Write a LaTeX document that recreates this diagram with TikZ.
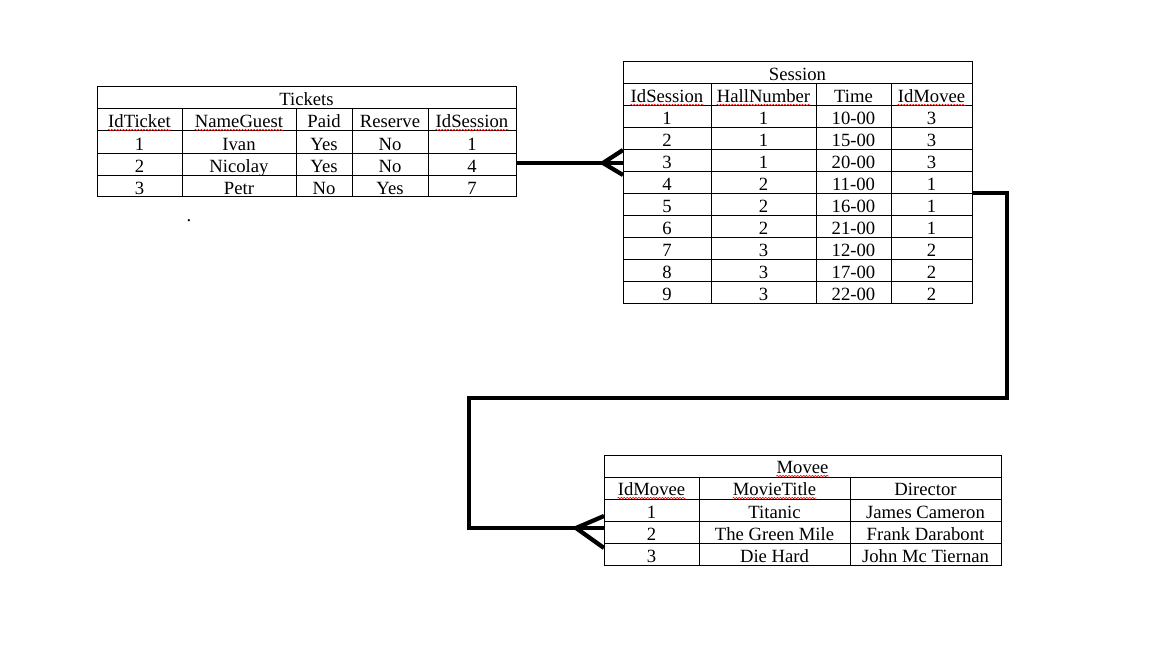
\documentclass[tikz,border=0pt]{standalone}
\usepackage{fontspec}
\setmainfont{Liberation Serif}
\usetikzlibrary{decorations.pathmorphing}
\begin{document}
\begin{tikzpicture}[x=0.75pt,y=-0.75pt,
  cell/.style={font=\fontsize{14}{16}\selectfont, inner sep=0pt, anchor=base},
  gridline/.style={line width=0.75pt, black},
  link/.style={line width=3.2pt, black, line join=miter},
  spell/.style={red, line width=0.45pt, decorate,
    decoration={snake, amplitude=0.55pt, segment length=2.2pt}}]
\useasboundingbox (0,0) rectangle (1152,648);
\fill[white] (0,0) rectangle (1152,648);

% ---------------- Tickets ----------------
\draw[gridline] (97,87) rectangle (516,197);
\foreach \y in {109,131,154,176} \draw[gridline] (97,\y) -- (516,\y);
\foreach \x in {182,296,352,428} \draw[gridline] (\x,109) -- (\x,197);
\node[cell] (tk-title) at (306.5,105.5) {Tickets};
\node[cell] (tk-h1) at (139.5,127.5) {IdTicket};
\node[cell] (tk-h2) at (239,127.5) {NameGuest};
\node[cell] (tk-h3) at (324,127.5) {Paid};
\node[cell] (tk-h4) at (390,127.5) {Reserve};
\node[cell] (tk-h5) at (472,127.5) {IdSession};
\foreach \a/\b/\c/\d/\e [count=\i] in {1/Ivan/Yes/No/1, 2/Nicolay/Yes/No/4, 3/Petr/No/Yes/7}{
  \pgfmathsetmacro\yy{150.3+22*(\i-1)}
  \node[cell] (tk-\i-1) at (139.5,\yy) {\a};
  \node[cell] (tk-\i-2) at (239,\yy) {\b};
  \node[cell] (tk-\i-3) at (324,\yy) {\c};
  \node[cell] (tk-\i-4) at (390,\yy) {\d};
  \node[cell] (tk-\i-5) at (472,\yy) {\e};
}
\node[cell] (dot) at (189,221.5) {.};

% ---------------- Session ----------------
\draw[gridline] (623,62) rectangle (972,304);
\foreach \y in {84,106,128,150,172,194,216,238,260,282} \draw[gridline] (623,\y) -- (972,\y);
\foreach \x in {711,816,891} \draw[gridline] (\x,84) -- (\x,304);
\node[cell] (se-title) at (797.5,80.5) {Session};
\node[cell] (se-h1) at (667,102.5) {IdSession};
\node[cell] (se-h2) at (763.5,102.5) {HallNumber};
\node[cell] (se-h3) at (853.5,102.5) {Time};
\node[cell] (se-h4) at (931.5,102.5) {IdMovee};
\foreach \a/\b/\c/\d [count=\i] in {1/1/10-00/3, 2/1/15-00/3, 3/1/20-00/3, 4/2/11-00/1, 5/2/16-00/1, 6/2/21-00/1, 7/3/12-00/2, 8/3/17-00/2, 9/3/22-00/2}{
  \pgfmathsetmacro\yy{124.5+22*(\i-1)}
  \node[cell] (se-\i-1) at (667,\yy) {\a};
  \node[cell] (se-\i-2) at (763.5,\yy) {\b};
  \node[cell] (se-\i-3) at (853.5,\yy) {\c};
  \node[cell] (se-\i-4) at (931.5,\yy) {\d};
}

% ---------------- Movee ----------------
\draw[gridline] (604,455) rectangle (1001,565);
\foreach \y in {477,499,521.5,543.5} \draw[gridline] (604,\y) -- (1001,\y);
\foreach \x in {699,850} \draw[gridline] (\x,477) -- (\x,565);
\node[cell] (mv-title) at (802.5,473.5) {Movee};
\node[cell] (mv-h1) at (651.5,495.5) {IdMovee};
\node[cell] (mv-h2) at (774.5,495.5) {MovieTitle};
\node[cell] (mv-h3) at (925.5,495.5) {Director};
\foreach \a/\b/\c [count=\i] in {1/Titanic/James Cameron, 2/The Green Mile/Frank Darabont, 3/Die Hard/John Mc Tiernan}{
  \pgfmathsetmacro\yy{518+22*(\i-1)}
  \node[cell] (mv-\i-1) at (651.5,\yy) {\a};
  \node[cell] (mv-\i-2) at (774.5,\yy) {\b};
  \node[cell] (mv-\i-3) at (925.5,\yy) {\c};
}

% ---------------- spell-check underlines ----------------
\foreach \n in {tk-h1,tk-h2,tk-h5,se-h1,se-h2,se-h4,mv-title,mv-h1,mv-h2}{
  \draw[spell] ([yshift=-1.9pt]\n.base west) -- ([yshift=-1.9pt]\n.base east);
}

% ---------------- connectors ----------------
\coordinate (tkOut) at (516,163);
\coordinate (seIn) at (623,163);
\coordinate (seInA) at (603,163);
\coordinate (seInT) at (623,150);
\coordinate (seInB) at (623,175);
\draw[link] (tkOut) -- (seIn);
\draw[link] (seInT) -- (seInA) -- (seInB);

\coordinate (seOut) at (972,193);
\coordinate (b1) at (1007,193);
\coordinate (b2) at (1007,398);
\coordinate (b3) at (469,398);
\coordinate (b4) at (469,528);
\coordinate (mvIn) at (604,528);
\coordinate (mvInA) at (576,528);
\coordinate (mvInT) at (604,516);
\coordinate (mvInB) at (604,548);
\draw[link] (seOut) -- (b1) -- (b2) -- (b3) -- (b4) -- (mvIn);
\draw[link] (mvInT) -- (mvInA) -- (mvInB);
\end{tikzpicture}
\end{document}
